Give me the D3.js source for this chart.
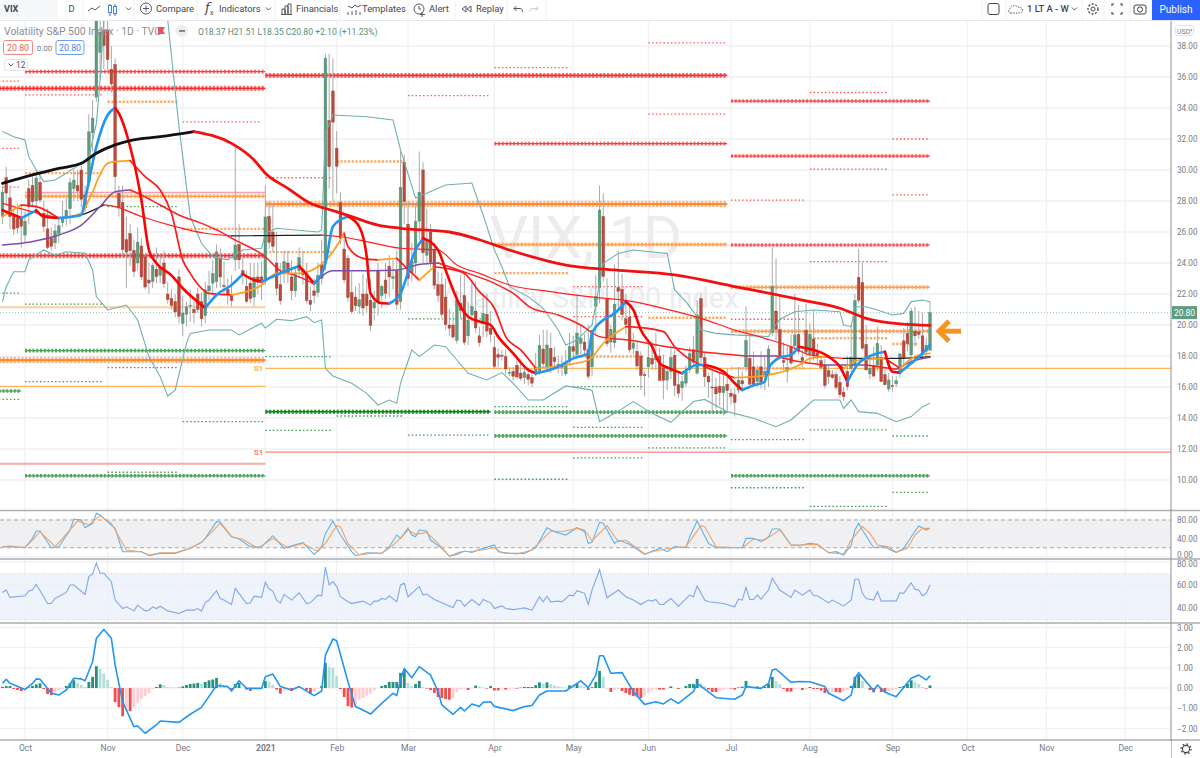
<!DOCTYPE html>
<html><head><meta charset="utf-8">
<script src="https://cdn.jsdelivr.net/npm/d3@7"></script>
<style>
html,body{margin:0;padding:0;background:#fff;overflow:hidden}
svg{display:block;font-family:Roboto,"Noto Sans",sans-serif}
</style></head><body><div id="c"></div>
<script>
// ---------- DATA (bar index: 0 = first October 2020 session) ----------
const firstBar=-6;
const opens=[27,29.5,28.2,27.1,26.9,26.9,
25.8,28.8,29,28,29.2,27.2,26.2,25.6,25.3,25.9,26.6,27,27.5,28.8,29,30,28.4,29.2,32.4,34.7,37.6,39,
39,36.5,36.8,28.5,27.9,25.5,25.9,24.8,24,25.1,24.4,22.9,22.8,23.6,23.2,24,22,21.7,21.5,23.1,
20.1,20.7,21.25,21,22,21.5,20.6,22.2,22.7,22.8,24.3,22.55,22.3,21.9,24.2,25.2,23.5,22.5,22.7,21.8,23.1,23.1,
23,27,26,24,22.6,23.4,24,23.1,22.2,23.5,23.6,23.3,21.6,22.2,22.1,23.9,24,33.2,35.1,
31.4,27.9,24.9,24.3,22.1,21.8,21.2,22,22,21.6,21.1,23.5,21.9,22.9,23.8,23,23.5,21.5,30.5,
26.5,23.4,24,26.7,30,24.5,26,24.9,22.6,22.6,21.8,20,20,19,21.4,21.9,19.3,20.65,20.9,19.3,20.1,20.7,19.8,
18.55,18.1,18.05,17.95,16.9,17,17.4,16.9,16.6,16.8,16.6,16.9,17,18.45,17.3,18.5,17.9,17.45,17.4,16.85,17.65,
18.6,18.1,18.8,18.9,18.4,17.3,21.2,22.4,27,21.7,18.9,18.85,22.4,22.3,20.4,20.5,18.5,18.3,18,16.8,
17.3,17.85,17.75,18,17.25,16.45,17,18.05,16.15,15.95,16.25,17.1,18.4,16.9,21.7,17.9,16.7,16,16,16.05,15.64,16.17,
15.6,15.5,15.8,16.4,17.3,17.85,17.3,16.35,17.3,16.7,16.8,19.5,20.9,19.7,17.7,17.02,18.6,18.65,19.4,17.9,19.65,
18.1,19.1,18.2,17.7,17.4,17.05,16.8,16.8,16.3,15.65,17,17.2,17.4,23.07,22.75,18.75,16.84,17.4,17.4,17.9,16.8,15.87,
16.1,16.2,16.9,18.98,19.46,18.07,19.6,19.55,19.3,18.3,18.37];
const highs=[29,30.2,29,27.5,27.8,27.8,
27.3,29.4,29.6,30,30,28,27.5,26.3,26.5,27,28,28.2,29.5,30,30,30.5,29,33.6,34.5,41.2,41.2,40.5,
40.2,38,37.2,29,29,27,26.5,25.5,26.3,25.6,24.6,24,24,25,24.5,24.8,22.8,22.3,22,23.6,
21.9,21.5,22.3,21.5,22.4,22.1,22.8,23.5,24.2,25.2,25,24.1,23,23.2,31.5,26.5,24.5,23.5,24,24,24,24.1,
29,28,27.8,26,24,24.8,24.8,24.2,23.8,25,24.8,24,22.5,23,24,25.5,37.5,37.5,37.2,
32.5,28.6,25.5,24.5,23.4,22.5,22.7,23.3,23,23,22.2,24,22.6,24,24.5,24.2,24.8,31.2,31,
28,25.3,27.8,31.2,30.5,27.5,26.5,25.3,23.4,23.4,23,21,20.8,22.2,23.2,23.4,21.5,22.9,22.8,19.9,22,22,20.9,
19.3,18.5,18.4,18.4,17.3,17.3,17.9,17.6,17.3,17.2,16.9,18.2,19.4,19.7,19.7,19.5,18.6,18,18,18.4,19.5,
19.3,22,20,19.4,20,19.7,23.2,29,28.5,23,20,23.9,24.8,23.3,22,21.2,19.5,18.9,18.3,17,
18.9,19,19.5,18.5,18.1,17.3,18.6,18.4,16.9,16.7,17.4,18.6,19.3,21.6,22,18.2,16.9,17,16.6,16.9,16.9,17.2,
15.9,15.9,17.3,17,21.2,19.4,18.3,17.4,18.3,18,18.7,25,24.3,21.9,18.9,18.7,19.4,22,21.3,18.4,21.4,
20.1,20.9,18.8,18,17.8,17.4,17.1,17,16.7,16,18,20,22,24.9,24,20,18,18.6,19.9,18.7,17.3,16.9,
16.7,16.7,18.2,19.8,20.2,21.1,21.2,20.9,20.8,19.2,21.51];
const lows=[26.5,27.8,26.2,25.8,25.9,25,
25.3,26.5,27.6,27.2,27.9,26,24.9,24.8,24.9,25.3,26.3,26.4,26.5,28,28,27.6,27.3,28.9,31.2,34.4,35.9,36.5,
36.3,35,28.5,27,24.4,22.4,23.8,23.1,23.5,22.9,22.3,22,22.4,22.7,22.7,22.4,21.4,21,20.5,20.1,
19.3,19.9,20.2,20.1,20.8,19.9,20.1,21.6,22,22.4,22.4,21.9,21.3,21.2,23.5,23.6,22.6,21.4,21.4,21.2,22,21.6,
22.6,24.9,24.7,21.9,21.3,22.7,22.7,21.6,21.8,23,22.6,21.4,20.9,21.4,21.8,22.6,23.5,28.8,28,
28.5,25.2,22.7,21.5,20.7,20.9,20.7,20.6,20.8,19.6,20.3,20.6,21.1,21.7,21.8,22.3,21,21,26.5,
22.5,22.8,23.3,25.5,24,24,23.7,22.3,21.5,20.5,19.7,19.3,19.1,18.8,20.4,18.7,18.7,20.2,19.5,18.6,19.2,19.2,18.9,
17.2,17.3,17.7,16.8,16.7,16.4,16.5,16.4,16.2,16.1,16,16.7,16.8,17.3,17,16.9,17.3,16.9,16.7,16.7,17.4,
17.9,17.8,18.1,18.1,16.5,16.7,19.4,21.4,22.8,18.6,18.2,18.5,20.9,20.3,19.4,18.2,18.1,17.1,15.8,15.4,
16.6,17.1,17.1,16.4,15.2,15.8,16.5,15.4,15.3,15.1,16,16.9,17.3,16.8,17.5,16,15.3,14.3,14.6,14.8,14.2,14.3,
14.9,14.1,15.6,15.8,17,16.2,16,16,15.9,15.8,16,19.3,19,17.8,17.1,16.3,17.4,18.1,18.1,17.3,18,
17.6,17.7,17.5,17.1,15.9,16.2,16.5,15.8,15.3,15.1,15.8,16.9,17.1,21.4,18.4,17.1,16.5,16.7,17,16.3,16.1,15.7,
15.7,16,16.6,17.3,18.3,17.5,18.6,19.1,17.8,18,18.35];
const closes=[28.58,28.51,27,26.19,26.27,26.37,
26.7,27.63,27.96,29.48,28.06,26.36,25,25.07,26.07,26.4,26.97,27.41,29.18,29.35,28.65,28.11,27.55,32.46,33.35,40.28,38.9,38.02,
37.13,35.55,29.57,27.58,24.86,24.7,24.8,23.45,25.35,23.1,22.45,22.71,23.84,23.11,23.7,22.66,21.64,21.25,20.84,20.57,
20.77,21.17,21.28,20.79,21,20.4,22.27,22.52,23.31,24.72,23.1,22.5,21.95,21.57,25.16,24.2,23.3,21.53,21.7,23.08,22.77,22.75,
26.97,25.34,25.07,22.37,21.56,24.08,23.33,22.21,23.25,24.34,23.24,21.58,21.32,21.91,23.19,23.02,37.21,30.21,33.09,
30.24,25.6,22.91,21.77,20.87,21.24,21.63,21.1,21.25,19.97,21.46,21.5,22.49,22.05,23.1,23.11,21.34,28.89,27.95,
23,24.1,26.67,28.57,24.66,25.47,24.03,22.56,21.91,20.69,20.03,19.79,19.23,21.58,20.95,18.88,20.3,21.2,19.81,18.86,20.74,19.61,19.4,
17.33,17.91,18,17.16,16.95,16.69,16.65,16.57,16.95,16.5,16.25,17.29,18.68,17.5,18.71,17.33,17.64,17.4,17.28,17.61,18.61,
18.3,19.48,19.15,18.39,16.69,19.66,21.84,27.42,23.13,18.81,19.72,21.34,22.18,20.67,20.05,18.4,18.84,17.36,16.74,16.76,
17.9,17.48,18,16.42,16.42,17,17.9,16.1,15.6,16.35,17,18.15,17.6,20.65,17.89,16.66,16.32,15.97,15.56,15.65,16.02,15.77,
15.4,15,16.44,16.2,19,16.18,16.17,17.1,16.33,17,18.45,22.5,19.73,17.95,17.6,17.25,17.55,19.36,18.3,17.7,18.24,
19.4,18,18.04,17.27,16.1,16.66,16.6,15.98,15.5,15.38,16.02,17.9,21.57,21.6,18.5,17.1,17.2,16.7,18.82,16.35,16.15,16.45,
16.05,16.4,18.13,17.85,18.8,20.9,19.3,19.4,18.2,18.7,20.8];

const fastLine=[[-6,27.4],[-1,26.9],[3,27.4],[5,27],[9,26.9],[15,27.1],[16,28.1],[19,31.5],[22,33.55],[24,34],[25,33.66],[28,31.5],[31,28.07],[33,24.84],[35,23.98],[39,23.2],[42,22.37],[48,21.1],[51,21.94],[55,22.58],[58,23.29],[61,22.9],[63,22.8],[69,23.44],[73,23.81],[77,22.69],[80,23.98],[82,26.35],[86,27],[89,26.35],[91,24.41],[92,22.04],[95,21.4],[97,21.39],[100,22.04],[104,24.84],[106,25.6],[110,24.84],[112,23.55],[114,22.26],[116,21.18],[118,20.54],[121,20.22],[124,20],[126,19.25],[130,18.17],[134,17.1],[136,16.88],[142,17.31],[146,17.85],[150,18.17],[151,19.46],[154,20.32],[157,20.75],[160,21.51],[162,20.97],[164,19.68],[167,18.6],[169,17.53],[171,17.27],[175,16.88],[179,17.42],[181,17.42],[186,16.99],[189,16.24],[191,15.81],[194,16.1],[197,16.34],[198,17.2],[201,17.9],[204,18.07],[206,18.6],[208,18.5],[214,17.96],[217,17.31],[219,16.34],[222,17.53],[227,18.17],[229,18.28],[231,16.99],[233,16.93],[236,17.53],[239,18.17],[241,18.71]];
const midLine=[[-6,27],[-1,27.74],[3,27.64],[9,26.88],[15,27.21],[17,28.07],[22,30.43],[24,30.54],[28,30.6],[32,29.57],[36,28.71],[39,27.21],[42,24.2],[44,23.33],[47,22.37],[49,22.04],[55,21.94],[63,22.58],[67,23.33],[73,23.34],[81,24.41],[85,25.92],[86,25.06],[90,24.3],[94,24.2],[99,24.3],[105,22.9],[109,23.76],[112,23.66],[117,23.33],[121,22.15],[125,21.08],[128,19.25],[132,18.39],[136,17.21],[144,17.42],[150,17.74],[151,17.92],[154,18.82],[160,19.89],[163,19.85],[170,19.57],[173,18.6],[176,17.96],[181,17.31],[189,16.6],[198,16.78],[207,17.53],[209,17.85],[214,17.96],[218,17.2],[222,17.74],[229,17.85],[233,17.2],[237,17.96],[241,18.17]];
const slowLine=[[-6,25.16],[-1,25.27],[4,25.49],[9,25.81],[15,26.45],[20,27.64],[24,28.6],[28,28.71],[31,28.39],[36,27.74],[41,27.1],[47,26.56],[52,26.02],[55,25.6],[64,24.4],[68,23.5],[72,23.2],[77,22.65],[82,23.5],[92,23.5],[99,23.55],[105,23.9],[110,24],[118,23.33],[125,22.69],[130,22.04],[135,21.08],[142,20.65],[148,20],[153,19.25],[162,18.99],[171,18.6],[180,18.28],[189,18.07],[192,18],[200,18],[206,17.64],[213,17.42],[218,17.42],[224,17.42],[232,17.14],[236,17.64],[241,17.92]];
const thinLine=[[-6,27.85],[2,27.3],[9,26.9],[15,27.1],[21,27.75],[24,27.64],[31,27],[40,26.35],[48,25.92],[55,25.75],[61,25.76],[69,25.78],[79,25.8],[85,25.66],[91,25.38],[100,24.95],[110,24.84],[115,23.87],[121,23.33],[129,22.58],[140,22.15],[150,21.83],[162,21.51],[171,21.01],[180,20.43],[189,19.68],[197,19.14],[204,18.6],[209,18.07],[218,17.85],[224,17.85],[233,17.85],[241,17.96]];
const longLine=[[-6,29.14],[2,29.68],[9,30.1],[15,30.43],[19,31.08],[24,31.62],[28,31.9],[36,32.15],[45,32.48],[55,31.72],[61,30.65],[64,29.79],[70,28.82],[76,27.85],[82,27.38],[87,26.99],[94,26.45],[100,26.24],[113,26],[121,25.5],[129,24.84],[144,23.87],[157,23.55],[173,23.23],[189,22.48],[207,21.61],[217,21.08],[224,20.43],[233,20.07],[241,19.98]];
const bandUpper=[[-6,32.48],[-3,32.15],[0,31.94],[1,30.86],[3,30],[5,29.25],[8,29.36],[11,29.79],[15,30.43],[17,30.86],[19,33],[20,35.8],[21,39.7],[22,41.5],[30,44],[35,44],[38,39.68],[41,32.8],[44,27],[47,25.27],[50,24.41],[54,24.2],[58,24.84],[63,24.95],[64,25.92],[67,26.24],[78,26],[79,26.13],[80,32.37],[82,33.55],[91,33.44],[98,33.23],[100,31.3],[104,28.2],[112,29.03],[119,29.16],[122,27.1],[125,24.84],[127,23.76],[129,22.47],[134,21.83],[138,21.08],[142,19.68],[144,18.71],[147,19.03],[151,20],[154,23.98],[158,24.62],[162,24.84],[171,24.62],[173,22.26],[176,21.51],[179,20.54],[180,19.68],[184,19.46],[189,19.36],[198,19.25],[199,19.68],[201,20.37],[205,20.86],[210,20.97],[217,20.86],[218,20],[220,19.89],[221,21.18],[224,21.18],[227,20.97],[231,20.65],[234,20.75],[236,21.51],[239,21.61],[241,21.5]];
const bandLower=[[-6,21.5],[-5,22.47],[-3,23.44],[0,23.44],[1,24.2],[5,24.84],[8,24.5],[11,24.73],[16,24.62],[18,23.55],[19,21.83],[22,20.97],[27,21.29],[30,20.32],[33,17.96],[36,16.67],[38,15.42],[40,15.8],[43,18.82],[44,19.46],[49,19.68],[55,19.68],[57,19.36],[63,20.11],[64,19.8],[67,20.37],[71,20.28],[75,20.54],[77,20.15],[79,20.32],[80,17.2],[82,16.71],[87,16.24],[91,15.59],[94,14.84],[97,15.16],[99,14.95],[100,16.24],[103,18.39],[105,17.96],[109,18.71],[112,18.6],[118,16.88],[123,16.45],[127,16.93],[130,16.24],[134,15.16],[138,15.16],[144,16.07],[151,15.8],[153,13.76],[157,14.3],[162,15.06],[167,14.3],[172,13.72],[178,15.06],[181,15.2],[187,14.41],[194,13.98],[200,13.44],[204,13.87],[210,15.16],[217,15.16],[218,14.62],[220,15.16],[222,14.41],[227,14.3],[232,13.76],[236,14.09],[239,14.73],[241,14.95]];

// pivot levels: [from bar, to bar, price]
const pivotRedDots=[[-7,-1,35.74],[-7,-1,31.4],[-7,-1,28.9],[0,21,34.85],[42,63,33.1],[64,82,29.5],[125,145,36.6],[166,187,38.2],[102,124,34.8],[166,187,33.6],[209,230,35],[231,241,32],[188,208,28.06],[209,230,30.06],[231,241,28.4],[146,165,22.47],[146,165,20.54],[188,208,20.37],[209,230,24.09]];
const pivotRedPlus=[[0,64,36.35],[125,187,31.7],[188,241,34.45],[188,241,30.9],[188,241,25.16]];
const pivotRedHeavy=[[-7,64,35.27],[64,187,36.1],[-7,64,24.47]];
const pivotOrangeDots=[[0,21,29.8],[22,41,34.4],[42,64,26.2],[64,82,24.7],[83,101,30.55],[125,145,23.35],[146,165,17.97],[166,187,20.47],[209,230,19.15],[231,238,18.77],[188,208,17.2]];
const pivotOrangePlus=[[125,187,25.2],[188,241,22.43],[188,241,19.6],[0,64,28.3]];
const pivotOrangeHeavy=[[-7,64,17.74],[64,187,27.8]];
const pivotGreenDots=[[-7,-1,22.06],[0,21,21.35],[22,41,17.25],[0,21,16.35],[-7,-1,15.2],[42,64,13.76],[64,82,13.2],[64,82,17.96],[83,101,14.13],[22,41,27.64],[22,41,10.5],[102,124,12.9],[125,145,14.73],[102,124,20.39],[146,165,16.02],[146,165,13.4],[146,165,11.43],[166,187,12.07],[125,145,10.05],[188,208,9.5],[188,208,12.6],[209,230,13.23],[231,241,12.84],[231,241,9.2],[209,230,8.3]];
const pivotGreenPlus=[[0,64,18.35],[-7,-1,15.74],[0,64,10.27],[125,187,14.38],[125,187,12.85],[188,241,10.27]];
const pivotGreenHeavy=[[64,124,14.4]];
const solidOrange=[[-7,64,16.04],[64,306,17.2]];
const solidOrangePale=[[-7,64,21.15]];
const solidRed=[[64,306,11.8]];
const solidPink=[[-7,64,11.05]];
const pinkThick=[[0,64,28.55]];

const stochK=[[-6,22.3],[-4,23.8],[0,20],[2,40.3],[3,56.2],[4,56.2],[7,20],[9,22.3],[12,58.3],[13,82.1],[15,80],[16,63.4],[18,72.8],[19,94.4],[20,90.8],[24,62],[26,11.5],[31,11.5],[33,2.8],[36,7.9],[40,7.9],[44,18.7],[47,31.7],[48,40.3],[51,76.4],[52,75],[55,43.9],[57,38.9],[60,22.3],[63,22.3],[66,46],[69,18.7],[71,24.5],[74,31],[77,5.7],[79,22.3],[80,51.1],[82,77.8],[84,47.5],[87,11.5],[88,2.8],[91,9.3],[95,7.9],[97,22.3],[99,47.5],[100,40.3],[102,62],[103,47.5],[104,43.9],[105,58.3],[107,56.2],[108,36.7],[111,18.7],[113,2.1],[115,5.7],[117,13],[119,10],[122,18.7],[125,25.9],[126,11.5],[129,7.9],[133,7.9],[136,20],[139,63.4],[141,54.7],[144,47.5],[147,63.4],[149,54.7],[150,29.5],[151,31.7],[153,74.9],[154,72.8],[157,29.5],[158,36.7],[161,27.4],[165,5.7],[169,18.7],[171,11.5],[173,22.3],[176,20],[177,43.9],[179,77.8],[182,29.5],[184,20],[189,20],[191,20],[192,40.3],[194,40.3],[196,33],[198,43.9],[199,60.5],[201,60.5],[204,25.9],[206,24.5],[209,29.5],[211,27.4],[214,9.3],[216,11.5],[218,4.3],[220,25.9],[221,58.3],[222,72.8],[223,58.3],[226,20],[229,22.3],[231,13],[232,10],[234,18.7],[236,43.9],[238,67],[240,58.3],[241,62]];
const stochD=[[-6,22.3],[0,21],[2,36.7],[4,54.7],[8,22.3],[10,40.3],[14,77.8],[17,69.2],[20,89.3],[23,72.8],[27,15.1],[31,11.5],[33,4.3],[36,9.3],[40,9.3],[44,18.7],[47,31.7],[52,72.8],[55,43.9],[58,38.2],[62,18.7],[66,40.3],[70,20],[74,29.5],[78,11.5],[80,29.5],[83,67.7],[84,65.6],[86,29.5],[89,4.3],[92,7.9],[95,7.9],[97,18.7],[100,40.3],[102,58.3],[104,49],[107,53.3],[110,29.5],[113,2.1],[116,11.5],[120,13],[125,20],[127,9.3],[131,6.4],[135,15.1],[140,56.2],[143,54.7],[147,61.9],[149,58.3],[151,34.6],[155,67.7],[158,33],[160,36.7],[165,7.2],[169,15.1],[173,20],[176,22.3],[180,67.7],[181,65.6],[184,22.3],[191,20],[194,38.9],[197,36.7],[201,58.3],[204,25.9],[206,25.9],[211,27.4],[214,9.3],[218,6.4],[220,36.7],[223,65.6],[225,51.1],[227,25.9],[230,22.3],[232,10],[235,18.7],[237,47.5],[239,62],[241,62]];
const rsiLine=[[-6,53.6],[-5,55.7],[-4,49.3],[0,50.7],[1,54.8],[2,55.7],[3,60.6],[6,44],[7,44],[8,48.4],[11,53.6],[12,60],[13,60],[16,51.9],[17,67.2],[18,69.3],[19,78.8],[20,70.1],[21,70.1],[23,62.9],[24,47],[26,39.7],[27,41.2],[29,37.7],[30,42.6],[32,37.7],[33,38.3],[34,41.2],[35,39.7],[36,41.7],[38,37.7],[41,35.4],[43,38.3],[45,38.3],[46,39.7],[47,37.4],[48,44.9],[49,47],[51,55.1],[52,48.4],[53,47],[55,43.2],[56,57.1],[59,44],[60,44.6],[61,50.4],[63,49.3],[64,62.3],[65,56.5],[66,54.8],[67,47],[68,44.6],[69,51.9],[71,47],[73,53.3],[75,44],[76,44.6],[78,51.3],[79,50.7],[80,75.4],[81,60],[82,62.9],[83,58.6],[84,49.9],[86,45.5],[87,44],[90,46.1],[92,42.6],[93,46.1],[94,46.1],[95,48.4],[96,47.5],[97,50.7],[99,45.5],[100,60],[101,61.4],[102,49.9],[105,58.6],[106,51.3],[107,52.2],[109,47.5],[111,44.6],[114,40.6],[115,47],[116,46.4],[117,41.7],[119,47.5],[121,42.6],[122,47.5],[124,44.6],[125,39.7],[127,42],[128,39.7],[130,38.8],[132,39.7],[133,40.3],[135,38.3],[137,49.9],[138,45.5],[139,50.4],[140,45.5],[142,46.1],[143,45.5],[145,51.3],[146,50.7],[147,55.1],[149,52.8],[150,43.2],[151,55.7],[153,73],[155,49],[158,55.7],[160,49.9],[162,47],[164,43.2],[166,47],[167,46.1],[168,47.5],[169,43.2],[170,43.2],[172,48.4],[174,41.7],[177,51.3],[178,49.9],[179,59.1],[181,47],[182,45.5],[186,44],[189,41.2],[190,47.8],[191,46.9],[192,58],[193,47.5],[194,47.5],[195,51.3],[196,47.8],[198,55.7],[199,65.8],[201,55.7],[204,49.3],[205,55.7],[207,51.3],[209,55.7],[210,50.7],[211,50.7],[214,44.6],[215,47],[218,42],[220,47],[221,64.9],[222,64.9],[223,52.8],[224,48.4],[226,47],[227,54.2],[228,46.1],[231,46.4],[232,46.1],[233,53.3],[234,52.8],[236,62],[237,56.2],[238,55.7],[239,50.7],[240,52.8],[241,60]];
const macdLine=[[-6,.23],[-5,.43],[-4,.23],[0,-.07],[2,.23],[3,.45],[4,.43],[7,-.26],[9,-.35],[11,-.1],[13,.48],[15,.45],[16,.36],[18,1.3],[19,2.46],[21,2.9],[23,2.46],[24,1.14],[26,-.68],[29,-1.91],[30,-1.88],[32,-2.24],[35,-1.83],[36,-1.63],[41,-1.7],[44,-1.3],[47,-.96],[51,.12],[54,.07],[55,-.15],[57,.36],[59,-.02],[61,-.02],[63,-.02],[64,.56],[66,.69],[68,.07],[71,-.1],[73,.07],[77,-.38],[79,-.15],[80,1.63],[82,2.43],[83,2.34],[86,.31],[88,-.92],[90,-1.09],[92,-1.29],[95,-.76],[98,-.26],[99,-.38],[100,.4],[101,.97],[103,.51],[105,1.06],[108,.64],[110,-.18],[111,-.84],[114,-1.3],[116,-.96],[117,-1.14],[119,-.79],[121,-.92],[122,-.71],[124,-.68],[125,-.91],[130,-1.12],[133,-.92],[135,-.87],[137,-.35],[139,-.15],[144,-.15],[148,.35],[150,.02],[152,.64],[153,1.6],[154,1.6],[156,.73],[159,.76],[162,-.18],[165,-.81],[168,-.68],[170,-.79],[172,-.54],[174,-.76],[178,-.18],[179,.23],[184,-.48],[189,-.56],[191,-.35],[192,.07],[196,-.02],[198,.23],[199,.89],[200,.94],[204,.28],[206,.32],[209,.31],[213,.07],[214,-.26],[218,-.63],[220,-.35],[221,.48],[222,.76],[226,-.13],[227,.15],[229,-.21],[232,-.43],[236,.48],[238,.64],[240,.4],[241,.61]];
const macdHist=[.06,.1,.1,-.05,-.1,-.15,
-.12,.03,.1,.18,.23,-.05,-.3,-.35,-.15,-.1,-.05,.1,.25,.38,.25,.15,.05,.3,.55,1.08,.95,.72,
.4,.05,-.7,-.95,-1.4,-1.15,-1.15,-.95,-.75,-.55,-.4,-.25,-.05,.05,.18,.15,.05,.03,.02,.02,
.08,.15,.2,.22,.25,.2,.3,.38,.42,.5,.25,.12,.03,-.08,.2,.25,0,-.08,-.15,-.03,-.01,0,
.35,.3,.15,-.08,-.28,-.15,-.08,-.15,-.05,.03,.02,-.1,-.3,-.15,-.05,.1,1.25,1.05,1,
.6,-.05,-.45,-.9,-.97,-.85,-.6,-.5,-.38,-.28,-.12,0,.1,.15,.3,.3,.3,.75,.85,
.25,.1,.2,.35,.05,-.03,-.1,-.25,-.45,-.5,-.55,-.58,-.5,-.2,-.08,-.05,-.1,0,.12,.08,.03,-.03,.1,
-.12,-.12,-.03,-.08,-.04,-.03,-.03,.02,.05,.05,.05,.14,.28,.22,.28,.2,.13,.08,.05,.03,.13,
.12,.2,.12,.05,-.1,.04,.3,.85,.55,-.01,-.2,-.1,-.05,-.15,-.25,-.33,-.4,-.42,-.5,-.35,
-.25,-.12,-.07,-.08,-.08,-.02,.08,0,-.05,0,.1,.2,.2,.45,.22,.08,-.08,-.2,-.2,-.15,-.08,-.03,
-.03,-.08,.03,.07,.35,.1,.03,.08,.05,.06,.2,.55,.35,.2,-.05,-.18,-.18,-.05,-.03,-.1,-.08,
.05,-.05,-.05,-.12,-.25,-.22,-.2,-.2,-.22,-.15,-.1,.1,.55,.65,.35,0,-.1,-.22,-.05,-.2,-.2,-.15,
-.1,-.08,.05,.1,.2,.38,.3,.2,.05,-.03,.13];

const monthBars=[0,22,42,64,83,102,125,146,166,188,209,231,251,272,293];
const monthLabels=["Oct","Nov","Dec","2021","Feb","Mar","Apr","May","Jun","Jul","Aug","Sep","Oct","Nov","Dec"];
const priceTicks=[38,36,34,32,30,28,26,24,22,20,18,16,14,12,10];
const stochTicks=[80,40,0];
const stochBand=[80,20];
const rsiTicks=[80,60,40];
const rsiBand=[70,30];
const macdTicks=[3,2,1,0,-1,-2];
const lastClose=20.8;

// ---------- LAYOUT ----------
const W=1200,H=758,axisX=1171;
const pane={main:[20,510],stoch:[510,559],rsi:[559,623],macd:[623,740]};
const x=d3.scaleLinear().domain([0,241]).range([25,930]);
const step=x(1)-x(0);
const yMain=d3.scaleLinear().domain([38,10]).range([46,480]);
const yStoch=d3.scaleLinear().domain([80,0]).range([520,557]);
const yRsi=d3.scaleLinear().domain([60,40]).range([585,608.2]);
const yMacd=d3.scaleLinear().domain([1,0]).range([667.8,688]);

const svg=d3.select("#c").append("svg").attr("width",W).attr("height",H);
const defs=svg.append("defs");
Object.entries(pane).forEach(([k,[a,b]])=>defs.append("clipPath").attr("id","clip-"+k).append("rect").attr("x",0).attr("y",a).attr("width",axisX).attr("height",b-a));

// ---------- GRID ----------
const grid=svg.append("g");
const gridColor="#f0f1f4";
function hg(ticks,y){ticks.forEach(t=>grid.append("line").attr("x1",0).attr("x2",axisX).attr("y1",y(t)).attr("y2",y(t)).attr("stroke",gridColor).attr("stroke-width",1.4));}
grid.append("rect").attr("x",0).attr("width",axisX).attr("y",yStoch(stochBand[0])).attr("height",yStoch(stochBand[1])-yStoch(stochBand[0])).attr("fill","#f0f0f2");
grid.append("rect").attr("x",0).attr("width",axisX).attr("y",yRsi(rsiBand[0])).attr("height",yRsi(rsiBand[1])-yRsi(rsiBand[0])).attr("fill","#eef3fc");
hg(priceTicks,yMain);hg(stochTicks,yStoch);hg(rsiTicks,yRsi);hg(macdTicks,yMacd);
monthBars.forEach(b=>grid.append("line").attr("x1",x(b)).attr("x2",x(b)).attr("y1",20).attr("y2",740).attr("stroke",gridColor).attr("stroke-width",1.2));
stochBand.forEach(v=>grid.append("line").attr("x1",0).attr("x2",axisX).attr("y1",yStoch(v)).attr("y2",yStoch(v)).attr("stroke","#a8a8a8").attr("stroke-width",1).attr("stroke-dasharray","4 3"));
rsiBand.forEach(v=>grid.append("line").attr("x1",0).attr("x2",axisX).attr("y1",yRsi(v)).attr("y2",yRsi(v)).attr("stroke","#c9c9d2").attr("stroke-width",.8).attr("stroke-dasharray","1 2"));

// ---------- WATERMARK ----------
const wm=svg.append("g").attr("fill","#ececef").attr("text-anchor","middle");
wm.append("text").attr("x",586).attr("y",258).attr("font-size",60).text("VIX, 1D");
wm.append("text").attr("x",586).attr("y",308).attr("font-size",29).text("Volatility S&P 500 Index");

// ---------- MAIN PANE ----------
const main=svg.append("g").attr("clip-path","url(#clip-main)");
function levels(data,color,width,dash){
  main.selectAll(null).data(data).enter().append("line")
    .attr("x1",d=>x(d[0])).attr("x2",d=>x(d[1])).attr("y1",d=>yMain(d[2])).attr("y2",d=>yMain(d[2]))
    .attr("stroke",color).attr("stroke-width",width).attr("stroke-dasharray",dash||null);
}
// per-bar "+" marks: a thin spine plus one upright tick per bar
function plusLevels(data,color,spine,tall,tickW,paleColor){
  levels(data,paleColor||color,tall,`${tickW} ${step-tickW}`);
  levels(data,color,spine);
}
const dots=`1.5 ${step-1.5}`;
levels(solidPink,"#f7aaaa",2.2);
levels(solidOrangePale,"#fdcf9b",2);
levels(solidOrange,"#ffb55c",1.2);
levels(solidRed,"#ff8080",1.1);
levels(pinkThick,"#f6a0b4",1.6);
plusLevels(pivotOrangeHeavy,"#ff8a30",2.2,6.5,2.4,"#ffb888");
plusLevels(pivotRedHeavy,"#ff2b2b",1.8,5,2.2,"#ff6a6a");
plusLevels(pivotOrangePlus,"#ffa050",1.5,4,2.2,"#ffb47a");
plusLevels(pivotRedPlus,"#ff4040",1.2,3.6,2,"#ff6a6a");
plusLevels(pivotGreenPlus,"#4aa05a",1.2,3.6,2,"#5aa868");
plusLevels(pivotGreenHeavy,"#138a1d",1.5,4,2.2,"#1f8f29");
levels(pivotOrangeDots,"#ffa860",2.4,`2.2 ${step-2.2}`);
levels(pivotRedDots,"#ff5555",1.3,dots);
levels(pivotGreenDots,"#3f9a4f",1.3,dots);
main.append("line").attr("x1",0).attr("x2",axisX).attr("y1",yMain(lastClose)).attr("y2",yMain(lastClose)).attr("stroke","#7fb79f").attr("stroke-width",.8).attr("stroke-dasharray","1 2");

// candles
const bars=closes.map((c,k)=>({i:firstBar+k,o:opens[k],h:highs[k],l:lows[k],c}));
const bw=2.7;
main.selectAll(null).data(bars).enter().append("line")
  .attr("x1",d=>x(d.i)).attr("x2",d=>x(d.i)).attr("y1",d=>yMain(d.h)).attr("y2",d=>yMain(d.l))
  .attr("stroke","#aaaaaa").attr("stroke-width",1);
main.selectAll(null).data(bars).enter().append("rect")
  .attr("x",d=>x(d.i)-bw/2).attr("width",bw)
  .attr("y",d=>yMain(Math.max(d.o,d.c))).attr("height",d=>Math.max(1,Math.abs(yMain(d.o)-yMain(d.c))))
  .attr("fill",d=>d.c>=d.o?"#5f9a7d":"#bb4a3a").attr("stroke",d=>d.c>=d.o?"#4f8a6d":"#a54033").attr("stroke-width",.4);

// lines coloured by slope
function slopeLine(g,data,y,up,down,width){
  const gen=d3.line().x(d=>x(d[0])).y(d=>y(d[1])).curve(d3.curveMonotoneX);
  let run=[data[0]],col=null;
  const flush=()=>{if(run.length>1)g.append("path").attr("d",gen(run)).attr("fill","none").attr("stroke",col).attr("stroke-width",width).attr("stroke-linejoin","round").attr("stroke-linecap","round");};
  for(let k=1;k<data.length;k++){
    const c=data[k][1]>=data[k-1][1]?up:down;
    if(col&&c!==col){flush();run=[data[k-1]];}
    col=c;run.push(data[k]);
  }
  flush();
}
const band=d3.line().x(d=>x(d[0])).y(d=>yMain(d[1])).curve(d3.curveLinear);
[bandUpper,bandLower].forEach(b=>main.append("path").attr("d",band(b)).attr("fill","none").attr("stroke","#6fb0b0").attr("stroke-width",1.1));
slopeLine(main,thinLine,yMain,"#222222","#ff2020",1.2);
slopeLine(main,slowLine,yMain,"#7b4fb0","#ff2020",1.5);
slopeLine(main,midLine,yMain,"#ff9f1a","#ff1a1a",1.7);
slopeLine(main,fastLine,yMain,"#2196f3","#ff0000",2.6);
slopeLine(main,longLine,yMain,"#111111","#f40f0f",2.8);

// orange annotation arrow, anchored on price/bar
const ax=x(243.4),ay=yMain(19.6);
const arrow=svg.append("g").attr("fill","none").attr("stroke","#f7941d").attr("stroke-width",5).attr("stroke-linejoin","miter");
arrow.append("path").attr("d",d3.line()([[ax+10,ay-10],[ax,ay],[ax+10,ay+10]]));
arrow.append("path").attr("d",d3.line()([[ax+1,ay],[ax+22,ay]]));

// S1 labels
svg.append("text").attr("x",x(63)-3).attr("y",yMain(17.2)+3).attr("text-anchor","middle").attr("font-size",8).attr("font-weight",700).attr("fill","#ffb04f").text("S1");
svg.append("text").attr("x",x(63)-3).attr("y",yMain(11.8)+3).attr("text-anchor","middle").attr("font-size",8).attr("font-weight",700).attr("fill","#ff7b7b").text("S1");

// ---------- STOCH ----------
const gS=svg.append("g").attr("clip-path","url(#clip-stoch)");
const plain=y=>d3.line().x(d=>x(d[0])).y(d=>y(d[1])).curve(d3.curveLinear);
gS.append("path").attr("d",plain(yStoch)(stochK)).attr("fill","none").attr("stroke","#5cb3f0").attr("stroke-width",1.1);
gS.append("path").attr("d",plain(yStoch)(stochD)).attr("fill","none").attr("stroke","#f0a268").attr("stroke-width",1.1);

// ---------- RSI ----------
const gR=svg.append("g").attr("clip-path","url(#clip-rsi)");
gR.append("path").attr("d",plain(yRsi)(rsiLine)).attr("fill","none").attr("stroke","#7ea8ee").attr("stroke-width",1.1);

// ---------- MACD ----------
const gM=svg.append("g").attr("clip-path","url(#clip-macd)");
const hist=macdHist.map((v,k)=>({i:firstBar+k,v,p:k?macdHist[k-1]:0}));
gM.selectAll(null).data(hist).enter().append("rect")
  .attr("x",d=>x(d.i)-1.4).attr("width",2.8)
  .attr("y",d=>Math.min(yMacd(d.v),yMacd(0))).attr("height",d=>Math.abs(yMacd(d.v)-yMacd(0)))
  .attr("fill",d=>d.v>=0?(d.v>=d.p?"#26907f":"#b2dfdb"):(d.v<=d.p?"#ef4f4f":"#ffcdd2"));
gM.append("path").attr("d",plain(yMacd)(macdLine)).attr("fill","none").attr("stroke","#2196f3").attr("stroke-width",1.6).attr("stroke-linejoin","round");

// ---------- PANE SEPARATORS & AXES ----------
svg.append("rect").attr("x",axisX+.5).attr("y",21).attr("width",W-axisX).attr("height",H-21).attr("fill","#fff");
[510.5,559,623,740].forEach(v=>svg.append("line").attr("x1",0).attr("x2",W).attr("y1",v).attr("y2",v).attr("stroke","#adadad").attr("stroke-width",1.4));
svg.append("line").attr("x1",axisX).attr("x2",axisX).attr("y1",21).attr("y2",H).attr("stroke","#8f8f8f").attr("stroke-width",1);
svg.append("rect").attr("x",0).attr("y",741).attr("width",axisX).attr("height",17).attr("fill","#fff");

function rightAxis(scale,ticks,shift){
  const g=svg.append("g").attr("transform",`translate(${axisX},0)`).call(d3.axisRight(scale).tickValues(ticks).tickSize(0).tickPadding(6).tickFormat(d3.format(".2f")));
  g.select(".domain").remove();
  g.selectAll("text").attr("font-size",8.2).attr("font-family","Roboto").attr("fill","#787b86");
  if(shift)g.selectAll("text").attr("transform",d=>shift[d]?`translate(0,${shift[d]})`:null);
}
rightAxis(yMain,priceTicks);rightAxis(yStoch,stochTicks,{0:-2});rightAxis(yRsi,rsiTicks,{80:2});rightAxis(yMacd,macdTicks);

const xAxis=svg.append("g").attr("transform","translate(0,740)").call(d3.axisBottom(x).tickValues(monthBars).tickSize(0).tickPadding(5).tickFormat((d,k)=>monthLabels[k]));
xAxis.select(".domain").remove();
xAxis.selectAll("text").attr("font-size",8.6).attr("font-family","Roboto").attr("fill","#787b86").attr("font-weight",(d,k)=>monthLabels[k]==="2021"?700:400);

// last price tag
const tagY=yMain(lastClose);
svg.append("rect").attr("x",axisX+1).attr("y",tagY-6.5).attr("width",25).attr("height",13).attr("fill","#5d9c80");
svg.append("text").attr("x",axisX+13.5).attr("y",tagY+3).attr("text-anchor","middle").attr("font-size",8.4).attr("fill","#fff").text(d3.format(".2f")(lastClose));

// USD chip
svg.append("rect").attr("x",1175.5).attr("y",25.5).attr("width",18).attr("height",10).attr("rx",2).attr("fill","#fff").attr("stroke","#e0e3eb");
svg.append("text").attr("x",1177).attr("y",33.5).attr("font-size",7).attr("fill","#787b86").text("USD");
svg.append("path").attr("d","M1190 29.5l2.4 0-1.2 2z").attr("fill","#787b86");

// gear bottom right
const gear=svg.append("g").attr("transform","translate(1186,749)");
gear.append("circle").attr("r",3.6).attr("fill","none").attr("stroke","#444").attr("stroke-width",1.1);
gear.append("circle").attr("r",5).attr("fill","none").attr("stroke","#444").attr("stroke-width",1.3).attr("stroke-dasharray","1.6 2.3");

// ---------- LEGEND ----------
const leg=svg.append("g");
leg.append("text").attr("x",4).attr("y",35).attr("font-size",10.4).attr("fill","#8a8e99").text("Volatility S&P 500 Index · 1D · TVC");
leg.append("path").attr("d","M158 27h7l-2 3.5 2 3.5h-7z").attr("fill","#f0505a");
leg.append("circle").attr("cx",182).attr("cy",31).attr("r",6).attr("fill","#eceef2");
leg.append("rect").attr("x",179).attr("y",30.2).attr("width",6).attr("height",1.5).attr("fill","#666");
leg.append("text").attr("x",198).attr("y",34.5).attr("font-size",8.6).attr("fill","#53907a").text("O18.37  H21.51  L18.35  C20.80  +2.10 (+11.23%)");
leg.append("rect").attr("x",3.5).attr("y",40.5).attr("width",29).attr("height",14).attr("rx",2).attr("fill","#fff").attr("stroke","#ef8a80");
leg.append("text").attr("x",18).attr("y",51).attr("text-anchor","middle").attr("font-size",8.8).attr("fill","#e0685c").text("20.80");
leg.append("text").attr("x",44.5).attr("y",50.5).attr("text-anchor","middle").attr("font-size",8).attr("fill","#787b86").text("0.00");
leg.append("rect").attr("x",56).attr("y",40.5).attr("width",28).attr("height",14).attr("rx",2).attr("fill","#fff").attr("stroke","#6d9cf5");
leg.append("text").attr("x",70).attr("y",51).attr("text-anchor","middle").attr("font-size",8.8).attr("fill","#3f7ff0").text("20.80");
leg.append("rect").attr("x",4.5).attr("y",59.5).attr("width",23).attr("height",11).attr("rx",2).attr("fill","#fff").attr("stroke","#e0e3eb");
leg.append("path").attr("d","M8.5 63.5l2.5 2.5 2.5-2.5").attr("fill","none").attr("stroke","#555").attr("stroke-width",.9);
leg.append("text").attr("x",16).attr("y",68).attr("font-size",8.5).attr("fill","#555").text("12");

// ---------- TOOLBAR ----------
const tb=svg.append("g").attr("font-size",9.4).attr("fill","#434651");
tb.append("rect").attr("width",W).attr("height",20).attr("fill","#fff");
tb.append("line").attr("x1",0).attr("x2",W).attr("y1",20.5).attr("y2",20.5).attr("stroke","#e6e8ee");
tb.append("rect").attr("x",0).attr("y",0).attr("width",58).attr("height",19).attr("fill","#f6f7f9");
[66,83,134,197,275,340,408,455,507,546,982,1006,1082,1104,1130,1152].forEach(v=>tb.append("line").attr("x1",v).attr("x2",v).attr("y1",0).attr("y2",20).attr("stroke","#eef0f4"));
const label=(xx,t,o)=>{const e=tb.append("text").attr("x",xx).attr("y",12).text(t);if(o)Object.entries(o).forEach(([k,v])=>e.attr(k,v));return e;};
label(4,"VIX",{"font-weight":700,"font-size":9});
label(71.5,"D",{"text-anchor":"middle"});
const ico=(d,w)=>tb.append("path").attr("d",d).attr("fill","none").attr("stroke","#434651").attr("stroke-width",w||.9);
ico("M88 11l4-3 3 2 5-4");
ico("M110 4v12M115 4v12",.8);
tb.append("rect").attr("x",108.5).attr("y",5.5).attr("width",3).attr("height",7).attr("fill","#fff").attr("stroke","#3d7ff5");
tb.append("rect").attr("x",113.5).attr("y",6.5).attr("width",3).attr("height",7).attr("fill","#fff").attr("stroke","#3d7ff5");
ico("M126 7.5l2.5 2.5 2.5-2.5");
tb.append("circle").attr("cx",146).attr("cy",8.5).attr("r",5.5).attr("fill","none").attr("stroke","#434651").attr("stroke-width",.9);
ico("M146 5.5v6M143 8.5h6");
label(156,"Compare");
label(205,"f",{"font-style":"italic","font-size":13,"font-family":"DejaVu Serif"});
label(210,"x",{"font-size":7}).attr("y",15);
label(219,"Indicators");
ico("M266 7.5l2.5 2.5 2.5-2.5");
ico("M282 14V9h3v5M285 14V6h3v8M288 14V4h3v10M281 14.5h11");
label(296,"Financials");
ico("M348 6l4 2 3-3 3 2 3-2M348 15v-3M352 15v-4M356 15v-5M360 15v-3");
label(362,"Templates");
tb.append("circle").attr("cx",419).attr("cy",9).attr("r",5).attr("fill","none").attr("stroke","#434651").attr("stroke-width",.9);
ico("M419 6v3h2M422 12v5M420 14.5h5");
label(429,"Alert");
ico("M466 6l-4 3 4 3zM471 6l-4 3 4 3z");
label(476,"Replay");
ico("M514 8.5h6c2 0 2.5 2 2.5 3.5M514 8.5l2.5-2.5M514 8.5l2.5 2.5");
tb.append("path").attr("d","M538 8.5h-6c-2 0-2.5 2-2.5 3.5M538 8.5l-2.5-2.5M538 8.5l-2.5 2.5").attr("fill","none").attr("stroke","#c8cad0").attr("stroke-width",.9);
tb.append("rect").attr("x",988).attr("y",3.5).attr("width",11).attr("height",11).attr("rx",2).attr("fill","none").attr("stroke","#434651").attr("stroke-width",1);
tb.append("path").attr("d","M1011 13c-3 0-3-4-.5-4.5.5-3 5-4 7-1.5 3 0 5 1 5 3.5s-2 2.5-3 2.5z").attr("fill","none").attr("stroke","#434651").attr("stroke-width",.9).attr("stroke-dasharray","1.4 1.2");
label(1027,"1 LT A - W",{"font-weight":500});
ico("M1072 7.5l2.5 2.5 2.5-2.5");
tb.append("circle").attr("cx",1093).attr("cy",9).attr("r",2).attr("fill","none").attr("stroke","#434651");
tb.append("circle").attr("cx",1093).attr("cy",9).attr("r",5).attr("fill","none").attr("stroke","#434651").attr("stroke-width",1.3).attr("stroke-dasharray","2 1.6");
ico("M1112 6V4h2M1122 6V4h-2M1112 12v2h2M1122 12v2h-2",1.2);
tb.append("rect").attr("x",1134).attr("y",5).attr("width",12).attr("height",9).attr("rx",2).attr("fill","none").attr("stroke","#434651");
tb.append("circle").attr("cx",1140).attr("cy",9.5).attr("r",2.6).attr("fill","none").attr("stroke","#434651");
tb.append("rect").attr("x",1152).attr("y",0).attr("width",48).attr("height",20).attr("fill","#2962ff");
tb.append("text").attr("x",1176).attr("y",12.5).attr("text-anchor","middle").attr("font-size",10).attr("fill","#fff").text("Publish");
</script></body></html>
